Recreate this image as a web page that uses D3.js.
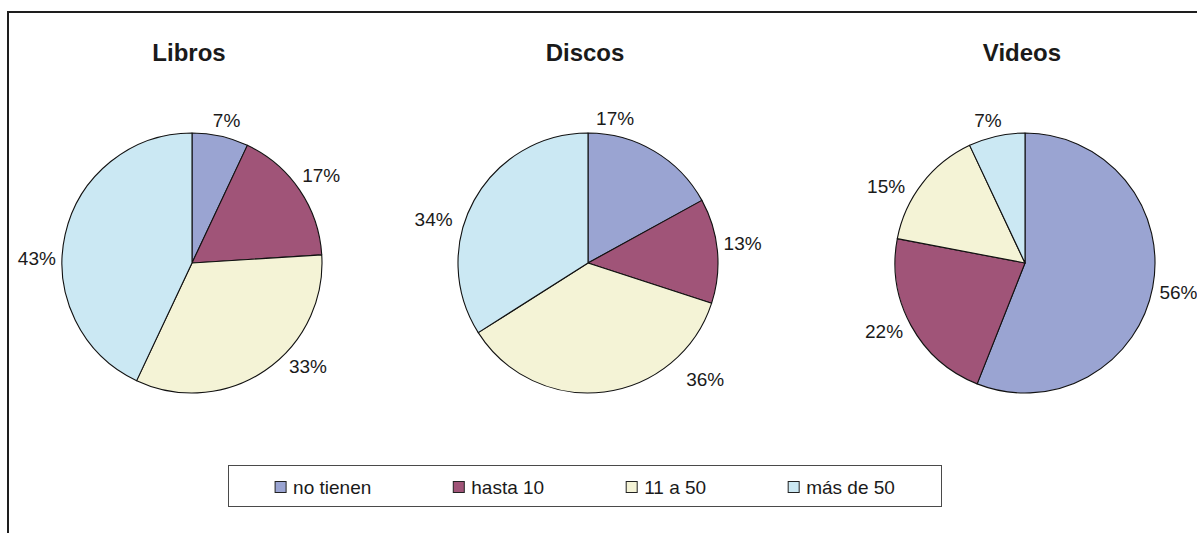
<!DOCTYPE html>
<html>
<head>
<meta charset="utf-8">
<script src="https://cdn.jsdelivr.net/npm/d3@7"></script>
<style>
  html, body { margin: 0; padding: 0; background: #fff; }
  svg { display: block; font-family: "Liberation Sans", Arial, sans-serif; }
</style>
</head>
<body>
<svg id="chart" width="1197" height="533"></svg>
<script>
// Categories shared by the three pies (legend order)
const categories = ["no tienen", "hasta 10", "11 a 50", "más de 50"];
const chartTitles = ["Libros", "Discos", "Videos"];

// Percentages per category for each pie
const librosValues = [7, 17, 33, 43];
const discosValues = [17, 13, 36, 34];
const videosValues = [56, 22, 15, 7];

const seriesValues = [librosValues, discosValues, videosValues];

// Slice fills, one per category
const colors = ["#9aa4d2", "#a05478", "#f4f3d6", "#cbe8f3"];

// Layout
const W = 1197, H = 533;
const radius = 130;
const pieCentersX = [192, 588, 1025];
const pieCenterY = 263;
const titleY = 61;
const labelGap = 6;
const labelFont = 19;
// Per-label placement tweaks: [angle shift in degrees, extra radial distance]
const labelTweaks = [
  [[1, 0], [0, 0], [-14, 0], [-11, 0]],
  [[-20, 0], [-2, 0], [-38, 10], [-13, 4]],
  [[0, 0], [3, 0], [-9, 2], [-2, 0]]
];

const svg = d3.select("#chart");

// Outer frame (top and left edges)
svg.append("path")
  .attr("d", `M${W},12 H8 V${H}`)
  .attr("fill", "none")
  .attr("stroke", "#1e1e1e")
  .attr("stroke-width", 2);

const color = d3.scaleOrdinal().domain(categories).range(colors);
const pie = d3.pie().sort(null).value(d => d.value).startAngle(0).endAngle(2 * Math.PI);
const arc = d3.arc().innerRadius(0).outerRadius(radius);

seriesValues.forEach((vals, ci) => {
  const cx = pieCentersX[ci];
  const g = svg.append("g").attr("transform", `translate(${cx},${pieCenterY})`);
  const data = pie(vals.map((v, i) => ({ value: v, cat: categories[i] })));

  g.selectAll("path.slice")
    .data(data)
    .join("path")
    .attr("class", "slice")
    .attr("d", arc)
    .attr("fill", d => color(d.data.cat))
    .attr("stroke", "#111")
    .attr("stroke-width", 1.1)
    .attr("stroke-linejoin", "round");

  // Title
  svg.append("text")
    .attr("x", cx - 3)
    .attr("y", titleY)
    .attr("text-anchor", "middle")
    .attr("font-size", 24)
    .attr("font-weight", "bold")
    .attr("fill", "#1a1a1a")
    .text(chartTitles[ci]);

  // Percentage labels placed just outside the slice edge
  const labels = g.selectAll("text.pct")
    .data(data)
    .join("text")
    .attr("class", "pct")
    .attr("text-anchor", "middle")
    .attr("dy", "0.35em")
    .attr("font-size", labelFont)
    .attr("fill", "#1a1a1a")
    .text(d => d.data.value + "%");

  labels.each(function (d, i) {
    const node = d3.select(this);
    const w = this.getComputedTextLength();
    const tw = labelTweaks[ci][i];
    const a = (d.startAngle + d.endAngle) / 2 + tw[0] * Math.PI / 180;
    const s = Math.sin(a), c = Math.cos(a);
    const dist = radius + labelGap + Math.abs(s) * w / 2 + Math.abs(c) * 8 + tw[1];
    node.attr("x", s * dist).attr("y", -c * dist);
  });
});

// Legend
const legend = { x: 228.5, y: 465.5, w: 713, h: 41 };
svg.append("rect")
  .attr("x", legend.x).attr("y", legend.y)
  .attr("width", legend.w).attr("height", legend.h)
  .attr("fill", "#fff")
  .attr("stroke", "#4a4a4a")
  .attr("stroke-width", 1);

const lg = svg.append("g");
const sw = 11, swGap = 7, itemGap = 82;
const items = lg.selectAll("g.item")
  .data(categories)
  .join("g")
  .attr("class", "item");

items.append("rect")
  .attr("width", sw).attr("height", sw)
  .attr("y", -sw / 2)
  .attr("fill", d => color(d))
  .attr("stroke", "#222")
  .attr("stroke-width", 1);

items.append("text")
  .attr("x", sw + swGap)
  .attr("dy", "0.36em")
  .attr("font-size", 19)
  .attr("fill", "#1a1a1a")
  .text(d => d);

const widths = [];
items.each(function () {
  widths.push(sw + swGap + d3.select(this).select("text").node().getComputedTextLength());
});
const total = d3.sum(widths) + itemGap * (widths.length - 1);
let xPos = legend.x + (legend.w - total) / 2;
items.each(function (d, i) {
  d3.select(this).attr("transform", `translate(${xPos},${legend.y + legend.h / 2 + 1})`);
  xPos += widths[i] + itemGap;
});
</script>
</body>
</html>
